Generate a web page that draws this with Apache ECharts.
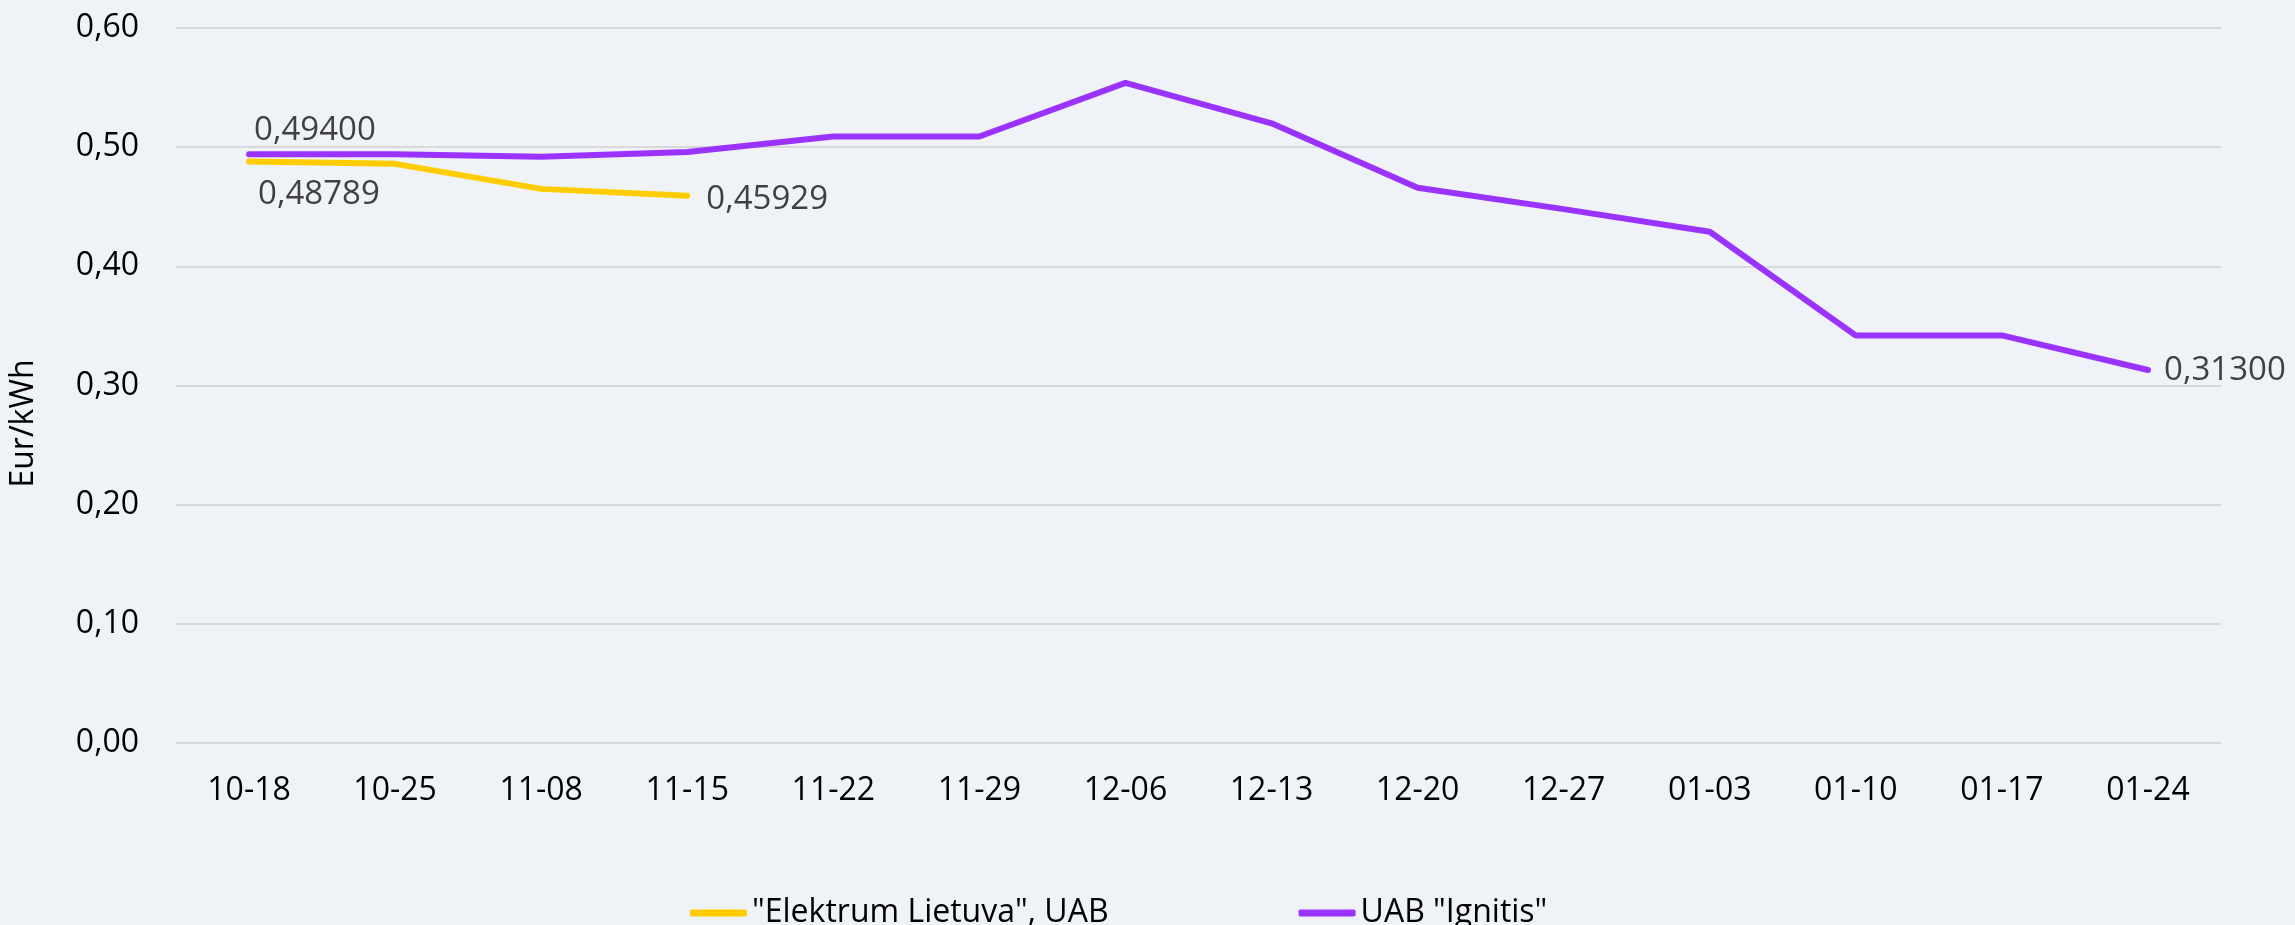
<!DOCTYPE html>
<html>
<head>
<meta charset="utf-8">
<title>Eur/kWh</title>
<script src="https://cdn.jsdelivr.net/npm/echarts@6/dist/echarts.min.js"></script>
<style>
  html, body { margin: 0; padding: 0; background: #eff3f7; }
  #chart { width: 2295px; height: 925px; }
</style>
</head>
<body>
<div id="chart"></div>
<script>
const categories = ["10-18", "10-25", "11-08", "11-15", "11-22", "11-29", "12-06",
    "12-13", "12-20", "12-27", "01-03", "01-10", "01-17", "01-24"];
const seriesNames = ['"Elektrum Lietuva", UAB', 'UAB "Ignitis"'];
const elektrum = [0.48789, 0.486, 0.465, 0.45929];
const ignitis = [0.494, 0.494, 0.492, 0.496, 0.509, 0.509, 0.554,
    0.52, 0.466, 0.448, 0.429, 0.342, 0.342, 0.313];
const yTicks = [0, 0.1, 0.2, 0.3, 0.4, 0.5, 0.6];

const fmt = (v, d) => v.toFixed(d).replace(".", ",");

// labels only on first / last points, like the original
const labelBase = {
    show: true,
    position: "right",
    fontFamily: "Open Sans",
    fontSize: 33,
    color: "#404040",
    formatter: (p) => fmt(p.value, 5),
};

const withLabels = (arr, firstLabel, lastLabel) =>
    arr.map((v, i) => {
        if (i === 0 && firstLabel) return { value: v, label: Object.assign({}, labelBase, firstLabel) };
        if (i === arr.length - 1 && lastLabel) return { value: v, label: Object.assign({}, labelBase, lastLabel) };
        return v;
    });

const chart = echarts.init(document.getElementById("chart"));

chart.setOption({
    backgroundColor: "#eff3f7",
    animation: false,
    textStyle: { fontFamily: "Open Sans" },
    grid: { left: 175, right: 74, top: 28, bottom: 182, containLabel: false },
    legend: {
        left: 685,
        top: 892,
        itemWidth: 57,
        itemHeight: 7,
        itemGap: 190,
        icon: "roundRect",
        textStyle: { fontFamily: "Open Sans", fontSize: 32, color: "#000" },
        data: seriesNames,
    },
    xAxis: {
        type: "category",
        data: categories,
        boundaryGap: true,
        axisLine: { show: false },
        axisTick: { show: false },
        axisLabel: { fontSize: 32, color: "#000", margin: 32, interval: 0 },
    },
    yAxis: {
        type: "value",
        name: "Eur/kWh",
        nameLocation: "middle",
        nameGap: 136,
        nameRotate: 90,
        nameTextStyle: { fontSize: 32, color: "#000", padding: [0, 76, 0, 0] },
        min: yTicks[0],
        max: yTicks[yTicks.length - 1],
        interval: 0.1,
        axisLine: { show: false },
        axisTick: { show: false },
        axisLabel: { fontSize: 32, color: "#000", margin: 37, formatter: (v) => fmt(v, 2) },
        splitLine: { lineStyle: { color: "#d9d9d9", width: 2 } },
    },
    series: [
        {
            name: seriesNames[0],
            type: "line",
            data: withLabels(elektrum, { distance: 9, offset: [0, 33] }, { distance: 19, offset: [0, 4] }),
            symbol: "circle",
            symbolSize: 0.1,
            showSymbol: true,
            color: "#ffcc00",
            lineStyle: { width: 6, color: "#ffcc00", cap: "round" },
            z: 2,
        },
        {
            name: seriesNames[1],
            type: "line",
            data: withLabels(ignitis, { distance: 5, offset: [0, -24] }, { distance: 16, offset: [0, 1] }),
            symbol: "circle",
            symbolSize: 0.1,
            showSymbol: true,
            color: "#9b33ff",
            lineStyle: { width: 6, color: "#9b33ff", cap: "round" },
            z: 3,
        },
    ],
});
</script>
</body>
</html>
